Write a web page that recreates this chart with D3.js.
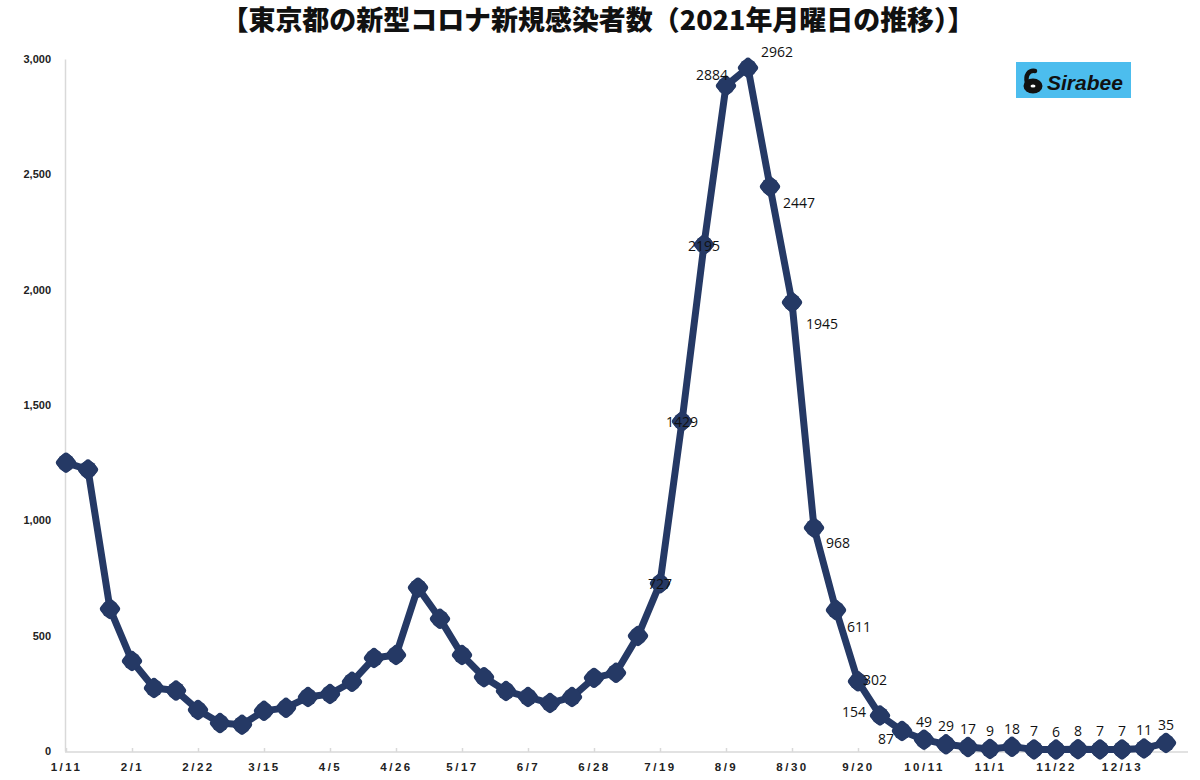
<!DOCTYPE html>
<html lang="ja">
<head>
<meta charset="UTF-8">
<title>東京都の新型コロナ新規感染者数</title>
<style>
  body { margin: 0; background: #fff; }
  svg { display: block; }
</style>
</head>
<body>
<div id="chart"></div>
<script src="https://d3js.org/d3.v7.min.js"></script>
<script>
// Mondays of 2021 (week labels)
const weeks = [
  "1/11","1/18","1/25","2/1","2/8","2/15","2/22","3/1","3/8","3/15",
  "3/22","3/29","4/5","4/12","4/19","4/26","5/3","5/10","5/17","5/24",
  "5/31","6/7","6/14","6/21","6/28","7/5","7/12","7/19","7/26","8/2",
  "8/9","8/16","8/23","8/30","9/6","9/13","9/20","9/27","10/4","10/11",
  "10/18","10/25","11/1","11/8","11/15","11/22","11/29","12/6","12/13","12/20",
  "12/27"
];
// new cases on Monday
const cases = [
  1250, 1220, 616, 390, 273, 262, 178, 121, 114, 174,
  187, 234, 247, 300, 403, 416, 708, 573, 416, 320,
  260, 234, 208, 234, 317, 339, 499, 727, 1429, 2195,
  2884, 2962, 2447, 1945, 968, 611, 302, 154, 87, 49,
  29, 17, 9, 18, 7, 6, 8, 7, 7, 11,
  35
];
const firstLabelled = 27;   // values are printed from 7/19 onward
const yTicks = [0, 500, 1000, 1500, 2000, 2500, 3000];

// label placement per labelled point: [dx, dy, anchor]
const labelPlace = {
  27: [0, 1, "middle"], 28: [0, 1, "middle"], 29: [0, 1, "middle"],
  30: [2, -11, "end"], 31: [13, -16, "start"], 32: [13, 17, "start"],
  33: [14, 22, "start"], 34: [12, 15, "start"], 35: [11, 17, "start"],
  36: [5, -1, "start"], 37: [-14, -3, "end"], 38: [-8, 8, "end"]
};

const W = 1200, H = 780;
const svg = d3.select("#chart").append("svg")
  .attr("width", W).attr("height", H);

const x = d3.scaleLinear().domain([0, weeks.length - 1]).range([66, 1166]);
const y = d3.scaleLinear().domain([0, 3000]).range([751, 59]);
const navy = "#253965";

// title
svg.append("text")
  .attr("x", 598).attr("y", 30)
  .attr("text-anchor", "middle")
  .attr("textLength", 753).attr("lengthAdjust", "spacingAndGlyphs")
  .style("font-family", "'Noto Sans CJK JP', sans-serif")
  .style("font-weight", 900).style("font-size", "27px")
  .style("fill", "#111")
  .text("【東京都の新型コロナ新規感染者数（2021年月曜日の推移）】");

// y axis
const yAxis = svg.append("g")
  .attr("transform", "translate(65,0)")
  .call(d3.axisLeft(y).tickValues(yTicks).tickSize(0).tickPadding(14)
    .tickFormat(d3.format(",")));
yAxis.select(".domain").attr("stroke", "#d9d9d9").attr("stroke-width", 1.5);
yAxis.selectAll("text")
  .style("font-family", "'Liberation Sans', Arial, sans-serif")
  .style("font-weight", 700).style("font-size", "11px").style("fill", "#222");

// x axis
const xAxis = svg.append("g")
  .attr("transform", "translate(0,752)")
  .call(d3.axisBottom(x)
    .tickValues(d3.range(0, weeks.length, 3))
    .tickSizeInner(-4).tickSizeOuter(0).tickPadding(11)
    .tickFormat(i => weeks[i]));
xAxis.select(".domain").attr("d", "M65,0H1188").attr("stroke", "#d9d9d9").attr("stroke-width", 1.5);
xAxis.selectAll(".tick line").attr("stroke", "#d9d9d9").attr("stroke-width", 1.5);
xAxis.selectAll("text")
  .style("font-family", "'Liberation Sans', Arial, sans-serif")
  .style("font-weight", 700).style("font-size", "11.5px")
  .style("letter-spacing", "2.5px").style("fill", "#222");

// line
const line = d3.line().x((d, i) => x(i)).y(d => y(d));
svg.append("path")
  .datum(cases)
  .attr("d", line)
  .attr("fill", "none")
  .attr("stroke", navy)
  .attr("stroke-width", 7)
  .attr("stroke-linejoin", "round");

// rounded diamond markers
const diamond = d3.symbol().type(d3.symbolSquare).size(72);
const markers = svg.selectAll(".marker")
  .data(cases)
  .enter().append("g")
  .attr("class", "marker")
  .attr("transform", (d, i) => `translate(${x(i)},${y(d)})`);
markers.append("path")
  .attr("d", diamond)
  .attr("transform", "rotate(45)")
  .attr("fill", navy)
  .attr("stroke", navy)
  .attr("stroke-width", 8)
  .attr("stroke-linejoin", "round");
markers.append("circle")
  .attr("r", 8.8)
  .attr("fill", navy);

// value labels
svg.selectAll(".val")
  .data(cases.map((v, i) => ({ v, i })).filter(d => d.i >= firstLabelled))
  .enter().append("text")
  .attr("class", "val")
  .attr("x", d => x(d.i) + (labelPlace[d.i] ? labelPlace[d.i][0] : 0))
  .attr("y", d => y(d.v) + (labelPlace[d.i] ? labelPlace[d.i][1] : -18))
  .attr("dy", "0.35em")
  .attr("text-anchor", d => labelPlace[d.i] ? labelPlace[d.i][2] : "middle")
  .style("font-family", "'Open Sans', sans-serif")
  .style("font-size", "14px")
  .style("fill", "#111")
  .text(d => d.v);

// Sirabee logo
const logo = svg.append("g").attr("transform", "translate(1016,62)");
logo.append("rect").attr("width", 115).attr("height", 36).attr("fill", "#4cbdee");
logo.append("ellipse").attr("cx", 17).attr("cy", 24).attr("rx", 9.5).attr("ry", 7.5).attr("fill", "#111");
logo.append("path")
  .attr("d", "M11,21 C9,13 13,8 19,9")
  .attr("fill", "none").attr("stroke", "#111").attr("stroke-width", 4.5)
  .attr("stroke-linecap", "round");
logo.append("ellipse").attr("cx", 17).attr("cy", 24).attr("rx", 2.5).attr("ry", 1.5).attr("fill", "#fff");
logo.append("text")
  .attr("x", 31).attr("y", 28)
  .style("font-family", "'Liberation Sans', Arial, sans-serif")
  .style("font-weight", 700).style("font-style", "italic")
  .style("font-size", "21px").style("fill", "#111")
  .text("Sirabee");
</script>
</body>
</html>
